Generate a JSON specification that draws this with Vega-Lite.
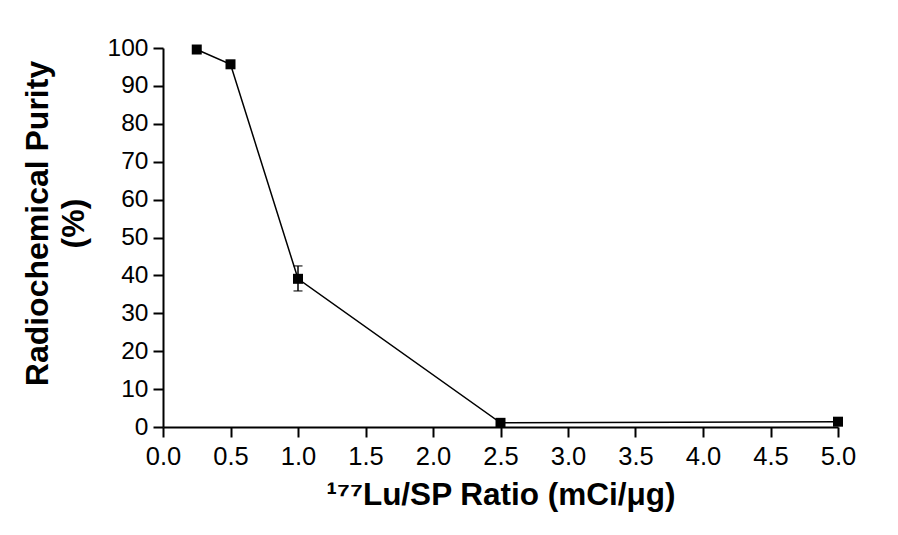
{
  "$schema": "https://vega.github.io/schema/vega-lite/v6.json",
  "width": 675,
  "height": 379,
  "autosize": "none",
  "padding": {"left": 163, "top": 48, "right": 60, "bottom": 108},
  "background": "white",
  "config": {
    "view": {"stroke": null},
    "font": "Liberation Sans",
    "axis": {
      "grid": false,
      "domainColor": "black",
      "domainWidth": 2,
      "tickColor": "black",
      "tickWidth": 2,
      "tickSize": 10,
      "labelColor": "black",
      "labelFont": "Liberation Sans",
      "titleColor": "black",
      "titleFont": "Liberation Sans",
      "titleFontWeight": "bold"
    }
  },
  "data": {
    "values": [
      {"ratio": 0.25, "purity": 99.6},
      {"ratio": 0.5, "purity": 95.7},
      {"ratio": 1.0, "purity": 39.1, "lo": 35.9, "hi": 42.5},
      {"ratio": 2.5, "purity": 1.1},
      {"ratio": 5.0, "purity": 1.4}
    ]
  },
  "encoding": {
    "x": {
      "field": "ratio",
      "type": "quantitative",
      "scale": {"domain": [0, 5], "nice": false, "zero": false},
      "axis": {
        "values": [0, 0.5, 1, 1.5, 2, 2.5, 3, 3.5, 4, 4.5, 5],
        "format": ".1f",
        "labelFontSize": 25.5,
        "labelPadding": 7,
        "labelFlush": false,
        "title": "¹⁷⁷Lu/SP Ratio (mCi/μg)",
        "titleFontSize": 31.5,
        "titlePadding": 10
      }
    },
    "y": {
      "field": "purity",
      "type": "quantitative",
      "scale": {"domain": [0, 100], "nice": false},
      "axis": {
        "values": [0, 10, 20, 30, 40, 50, 60, 70, 80, 90, 100],
        "labelFontSize": 24.5,
        "labelPadding": 5,
        "labelFlush": false,
        "title": ["Radiochemical Purity", "(%)"],
        "titleFontSize": 32,
        "titleLineHeight": 36,
        "titlePadding": 17,
        "titleY": 175
      }
    }
  },
  "layer": [
    {
      "mark": {"type": "line", "color": "black", "strokeWidth": 1.5}
    },
    {
      "transform": [{"filter": "datum.lo != null"}],
      "mark": {
        "type": "errorbar",
        "color": "black",
        "ticks": {"size": 9, "thickness": 1.5, "color": "black"},
        "rule": {"strokeWidth": 1.5}
      },
      "encoding": {
        "y": {"field": "lo", "type": "quantitative"},
        "y2": {"field": "hi"}
      }
    },
    {
      "mark": {"type": "square", "color": "black", "opacity": 1, "size": 100, "filled": true}
    }
  ]
}
